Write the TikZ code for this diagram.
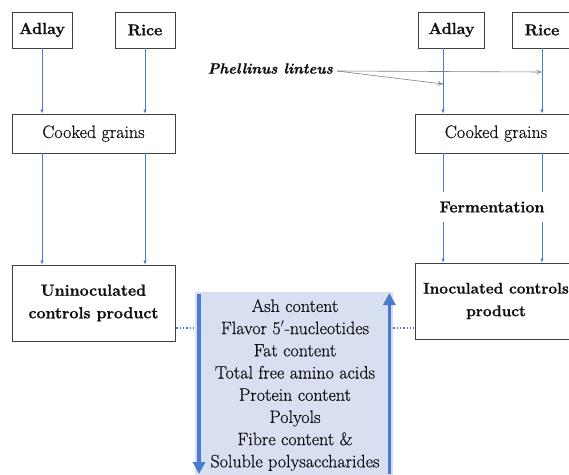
\documentclass[tikz,border=0pt]{standalone}
\usepackage{fontspec}
\setmainfont{Latin Modern Roman}[UprightFeatures={FakeBold=0.5}, BoldFeatures={FakeBold=1}, BoldItalicFeatures={FakeBold=1}]
\usetikzlibrary{arrows.meta,calc}
\definecolor{ablue}{HTML}{4A7BD0}
\definecolor{bfill}{HTML}{D8DFF1}
\definecolor{tbox}{HTML}{111111}
\tikzset{
  x=1pt, y=-1pt,
  bx/.style={draw=black!75, line width=0.9pt, inner sep=0pt, align=center, text=tbox},
  ft/.style={font=\fontsize{18}{22.2}\selectfont},
  ftb/.style={font=\fontsize{16}{22.6}\selectfont\bfseries},
  arr/.style={draw=ablue, line width=0.6pt, -{Latex[length=4pt,width=3.5pt]}},
  garr/.style={draw=black!50, line width=0.6pt, -{To[length=5pt,width=5pt]}},
  bigarr/.style={draw=ablue, line width=3.8pt, -{Triangle[length=12pt,width=12pt]}},
  dotl/.style={draw=ablue, line width=1.3pt, dotted},
}
\begin{document}
\begin{tikzpicture}
\useasboundingbox (0,0) rectangle (569,474);
\clip (0,0) rectangle (569,474);
\fill[white] (0,0) rectangle (569,474);
% left column
\node[bx, ftb, minimum width=60pt, minimum height=36pt] (aL) at (42,30) {Adlay};
\node[bx, ftb, minimum width=60pt, minimum height=36pt] (rL) at (145,30) {Rice};
\node[bx, ft, minimum width=163pt, minimum height=39pt] (cgL) at (93.5,133.5) {Cooked grains};
\node[bx, ftb, minimum width=163pt, minimum height=76pt] (unL) at (93.5,303) {Uninoculated\\controls product};
% right column
\node[bx, ftb, minimum width=66pt, minimum height=36pt] (aR) at (451.5,30) {Adlay};
\node[bx, ftb, minimum width=60pt, minimum height=36pt] (rR) at (542,30) {Rice};
\node[bx, ft, minimum width=162pt, minimum height=39pt] (cgR) at (496,133.5) {Cooked grains};
\node[bx, font=\fontsize{15.4}{22.6}\selectfont\bfseries, minimum width=162pt, minimum height=76pt] (inR) at (496,301) {Inoculated controls\\product};
\node[ftb, text=tbox, inner sep=1pt] (fer) at (492,207) {Fermentation};
\node[font=\fontsize{14.8}{22}\selectfont\bfseries\itshape, text=tbox, inner sep=1pt, anchor=east] (phe) at (334,68.5) {Phellinus linteus};
\coordinate (pst) at (337,71);
% left arrows
\draw[arr] (aL.south) -- (cgL.north -| aL.south);
\draw[arr] (rL.south) -- (cgL.north -| rL.south);
\draw[arr] (cgL.south -| aL.south) -- (unL.north -| aL.south);
\draw[arr] (cgL.south -| rL.south) -- (unL.north -| rL.south);
% right arrows
\coordinate (xa) at (443,0);
\draw[arr] (aR.south -| xa) -- (cgR.north -| xa);
\draw[arr] (rR.south) -- (cgR.north -| rR.south);
\draw[ablue, line width=0.6pt] (cgR.south -| xa) -- ($(fer.north -| xa)+(0,-8)$);
\draw[ablue, line width=0.6pt] (cgR.south -| rR.south) -- ($(fer.north -| rR.south)+(0,-8)$);
\draw[arr] ($(fer.south -| xa)+(0,8)$) -- (inR.north -| xa);
\draw[arr] ($(fer.south -| rR.south)+(0,8)$) -- (inR.north -| rR.south);
% Phellinus arrows
\draw[garr] (pst) -- (541.5,72);
\draw[garr] (pst) -- (443,84);
% centre box
\node[fill=bfill, inner sep=0pt, minimum width=198pt, minimum height=186pt, anchor=north west] (cb) at (195,292) {};
\node[ft, text=tbox, align=center, inner sep=0pt, anchor=north] (lst) at (295,299)
 {Ash content\\Flavor 5$'$-nucleotides\\Fat content\\Total free amino acids\\Protein content\\Polyols\\Fibre content \&\\Soluble polysaccharides};
\draw[bigarr] ($(cb.north west)+(4,2)$) -- ($(cb.north west)+(4,182)$);
\draw[bigarr] ($(cb.north east)+(-4,182)$) -- ($(cb.north east)+(-4,1)$);
\draw[dotl] ($(unL.east)+(1,25)$) -- ($(cb.west |- unL.east)+(0,25)$);
\draw[dotl] ($(cb.east |- inR.west)+(0,27)$) -- ($(inR.west)+(-1,27)$);
\end{tikzpicture}
\end{document}
